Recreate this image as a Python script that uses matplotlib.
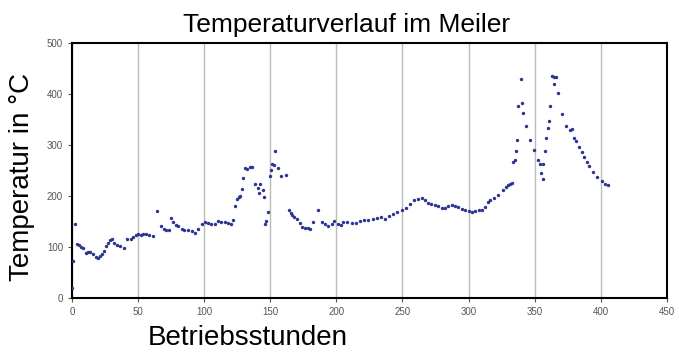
import numpy as np
import matplotlib
matplotlib.use('Agg')
import matplotlib.pyplot as plt

# Betriebsstunden (h) and temperature readings (°C)
hours = [0, 1, 2.3, 3.5, 5.5, 7, 8.5, 10.5, 12, 14, 16, 18, 20, 21.5, 23, 24.5, 26, 27,
         28.5, 30, 31.5, 34, 36.5, 39, 42, 44.5, 46.5, 48.5, 50, 52, 54, 56, 58.5, 61.5,
         64.5, 67, 69.5, 71.5, 73.5, 75, 76.5, 78.5, 80, 83, 85, 88, 90.5, 93, 95.5, 98,
         100.5, 103, 105.5, 108, 110.7, 113, 116, 118.4, 120.5, 121.6,
         123, 124.6, 126, 127, 128.4, 129.6, 130.9, 132.6, 134.6, 136.4,
         138.4, 140.4, 142, 141.5, 144.7, 145.5, 146, 146.9, 148.6, 149.9, 150.6, 151.6,
         153, 153.6, 156, 158.5, 161.6,
         164, 165.6, 166.6, 168, 170, 172.5, 174.3, 176.3, 178.3, 180, 182.6, 185.8,
         189, 191.5, 194, 196.5, 198.6, 201, 203.5, 205, 208, 211.5, 214.6, 217.8, 220.8,
         224, 227.4, 230.4, 233.5, 236.8, 240, 243, 246.1, 249.4, 252.6, 255.7, 258.7,
         262, 264.5, 267, 269.5, 272, 274.7, 277, 279.8, 282.3, 284.8, 287.4, 289.9,
         292.4, 295, 297.5, 300, 302.6, 305, 307.6, 310, 312.6, 315, 316, 319.2, 322.5,
         325.8, 328.3, 330, 331.3, 332.6,
         333.8, 334.8, 335.9, 336.9, 337.6, 339.6, 340.4, 341.6, 343.7, 346.5, 349.8,
         352.8, 353.8, 354.8, 356.1, 356.6, 357.8, 358.8, 359.8, 360.8, 361.8, 362.8,
         364.6, 364.9, 366.4, 367.6, 370.6, 373.9, 376.7, 378.2, 380, 381.7, 383.8,
         385.5, 387.3, 389.3, 391.3, 394.4, 397.4, 400.7, 403.2, 405.8]
temps = [20, 72, 146, 107, 104, 101, 99, 88, 91, 90, 86, 81, 79, 82, 86, 93, 103, 109,
         113, 116, 109, 105, 103, 99, 115, 116, 119, 123, 126, 123, 126, 125, 123, 122,
         171, 142, 136, 134, 134, 157, 149, 144, 142, 136, 134, 133, 131, 128, 136, 146,
         149, 147, 146, 146, 151, 150, 149, 147, 145, 154,
         180, 195, 198, 201, 214, 236, 255, 253, 257, 257,
         223, 216, 224, 206, 211, 198, 145, 152, 169, 239, 252, 262,
         260, 288, 255, 239, 241,
         173, 167, 162, 159, 156, 147, 139, 137, 138, 135, 149, 172,
         149, 145, 142, 146, 151, 145, 143, 149, 150, 148, 147, 151, 154,
         154, 155, 157, 159, 156, 160, 165, 169, 172, 176, 185, 192,
         195, 197, 192, 187, 185, 183, 181, 177, 177, 180, 182, 181,
         179, 175, 173, 171, 169, 171, 172, 173, 178, 188, 193, 197, 203,
         211, 218, 222, 224, 225,
         267, 271, 288, 309, 376, 430, 383, 363, 337, 309, 291,
         270, 262, 245, 233, 262, 288, 314, 333, 348, 376, 435,
         434, 420, 434, 401, 360, 337, 329, 331, 313, 308, 296,
         286, 276, 266, 258, 247, 237, 229, 224, 221]

plt.rcParams['font.family'] = ['Liberation Sans', 'DejaVu Sans']

fig = plt.figure(figsize=(6.79, 3.52), dpi=100)
ax = fig.add_axes([0.106, 0.153, 0.876, 0.725])

ax.scatter(hours, temps, s=6, color='#2a3590', linewidths=0, zorder=3)

ax.set_xlim(0, 450)
ax.set_ylim(0, 500)
ax.set_xticks(np.arange(0, 451, 50))
ax.set_yticks(np.arange(0, 501, 100))
ax.grid(axis='x', color='#bbbbbb', linewidth=1)
ax.set_axisbelow(True)
for sp in ax.spines.values():
    sp.set_linewidth(1.5)
ax.tick_params(labelsize=7, colors='#555555', length=3, width=0.8)

# title sits a bit left of the axes centre in the original
fig.text(0.511, 0.91, 'Temperaturverlauf im Meiler', fontsize=19, ha='center', va='baseline')
fig.text(0.032, 0.497, 'Temperatur in °C', fontsize=20, rotation=90, ha='center', va='center')
fig.text(0.3645, 0.004, 'Betriebsstunden', fontsize=20, ha='center', va='bottom')

fig.savefig('out.png', dpi=100)
